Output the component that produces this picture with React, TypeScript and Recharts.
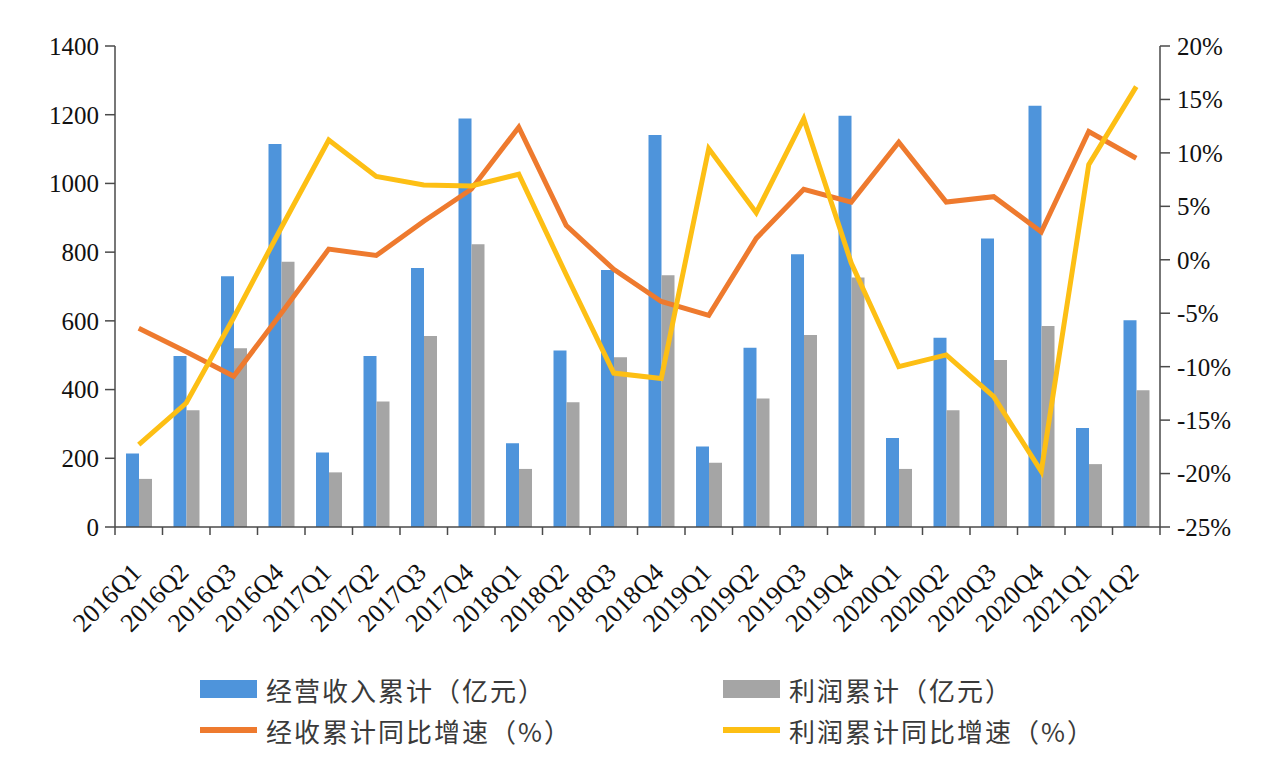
import { ComposedChart, Bar, Line, XAxis, YAxis } from "recharts";

const QUARTERS = [
  "2016Q1", "2016Q2", "2016Q3", "2016Q4",
  "2017Q1", "2017Q2", "2017Q3", "2017Q4",
  "2018Q1", "2018Q2", "2018Q3", "2018Q4",
  "2019Q1", "2019Q2", "2019Q3", "2019Q4",
  "2020Q1", "2020Q2", "2020Q3", "2020Q4",
  "2021Q1", "2021Q2",
];

// 经营收入累计（亿元）
const REVENUE = [214, 498, 730, 1115, 217, 498, 754, 1189, 244, 514, 748, 1141, 234, 522, 794, 1197, 259, 551, 840, 1226, 288, 602];
// 利润累计（亿元）
const PROFIT = [140, 340, 520, 772, 159, 365, 556, 823, 169, 363, 494, 733, 187, 374, 559, 726, 169, 340, 486, 585, 183, 398];
// 经收累计同比增速（%）
const REVENUE_YOY = [-6.4, -8.6, -10.9, -5.0, 1.0, 0.4, 3.6, 6.6, 12.4, 3.2, -0.9, -3.9, -5.2, 2.0, 6.6, 5.4, 11.0, 5.4, 5.9, 2.6, 12.0, 9.5];
// 利润累计同比增速（%）
const PROFIT_YOY = [-17.3, -13.4, -5.4, 3.0, 11.2, 7.8, 7.0, 6.9, 8.0, -1.4, -10.6, -11.1, 10.4, 4.4, 13.2, -0.3, -10.0, -8.9, -12.8, -19.8, 8.9, 16.2];

const LEFT_TICKS = [0, 200, 400, 600, 800, 1000, 1200, 1400];
const RIGHT_TICKS = [-25, -20, -15, -10, -5, 0, 5, 10, 15, 20];

const data = QUARTERS.map((q, i) => ({
  q,
  revenue: REVENUE[i],
  profit: PROFIT[i],
  revenueYoy: REVENUE_YOY[i],
  profitYoy: PROFIT_YOY[i],
}));

const W = 1266;
const H = 764;
const MARGIN = { top: 46, right: 36, left: 55, bottom: 137 };
const LEFT_AXIS_W = 60;
const RIGHT_AXIS_W = 70;
const PLOT_W = W - MARGIN.left - MARGIN.right - LEFT_AXIS_W - RIGHT_AXIS_W;
const BAND = PLOT_W / QUARTERS.length;

const AXIS = "#4a4a4a";
const SERIF = '"Liberation Serif", "DejaVu Serif", serif';
const SANS = '"Noto Sans CJK SC", "Noto Sans", sans-serif';
const BLUE = "#4e94db";
const GRAY = "#a5a5a5";
const ORANGE = "#ee7a2e";
const YELLOW = "#fdbf14";

function QuarterTick(props: any) {
  const { x, y, payload, index } = props;
  const last = index === QUARTERS.length - 1;
  return (
    <g>
      <line x1={x - BAND / 2} x2={x - BAND / 2} y1={y} y2={y + 8} stroke={AXIS} strokeWidth={1.5} />
      {last && <line x1={x + BAND / 2} x2={x + BAND / 2} y1={y} y2={y + 8} stroke={AXIS} strokeWidth={1.5} />}
      <text
        transform={`translate(${x + 4},${y + 47}) rotate(-45)`}
        textAnchor="end"
        fontFamily={SERIF}
        fontSize={26}
        fill="#111"
      >
        {payload.value}
      </text>
    </g>
  );
}

function LegendItem({ kind, color, label, left, top }: any) {
  return (
    <div style={{ position: "absolute", left, top, display: "flex", alignItems: "center", height: 30 }}>
      <div
        style={{
          width: 57,
          height: kind === "bar" ? 18 : 6,
          background: color,
          marginRight: 9,
        }}
      />
      <span style={{ fontFamily: SANS, fontSize: 26, letterSpacing: 2, color: "#3a3a3a", whiteSpace: "nowrap" }}>
        {label}
      </span>
    </div>
  );
}

export default function App() {
  return (
    <div style={{ position: "absolute", left: 0, top: 0, width: W, height: H, background: "#fff" }}>
      <ComposedChart width={W} height={H} data={data} margin={MARGIN} barGap={0} barSize={13}>
        <XAxis
          dataKey="q"
          interval={0}
          height={100}
          tickLine={false}
          tickSize={0}
          tickMargin={0}
          axisLine={{ stroke: AXIS, strokeWidth: 1.5 }}
          tick={<QuarterTick />}
        />
        <YAxis
          yAxisId="left"
          width={LEFT_AXIS_W}
          domain={[0, 1400]}
          ticks={LEFT_TICKS}
          interval={0}
          tickSize={10}
          tickMargin={6}
          axisLine={{ stroke: AXIS, strokeWidth: 1.5 }}
          tickLine={{ stroke: AXIS, strokeWidth: 1.5 }}
          tick={{ fontFamily: SERIF, fontSize: 25, fill: "#111" }}
        />
        <YAxis
          yAxisId="right"
          orientation="right"
          width={RIGHT_AXIS_W}
          domain={[-25, 20]}
          ticks={RIGHT_TICKS}
          interval={0}
          tickSize={10}
          tickMargin={7}
          tickFormatter={(v: number) => `${v}%`}
          axisLine={{ stroke: AXIS, strokeWidth: 1.5 }}
          tickLine={{ stroke: AXIS, strokeWidth: 1.5 }}
          tick={{ fontFamily: SERIF, fontSize: 25, fill: "#111" }}
        />
        <Bar yAxisId="left" dataKey="revenue" fill={BLUE} isAnimationActive={false} />
        <Bar yAxisId="left" dataKey="profit" fill={GRAY} isAnimationActive={false} />
        <Line
          yAxisId="right"
          dataKey="revenueYoy"
          stroke={ORANGE}
          strokeWidth={5}
          dot={false}
          type="linear"
          isAnimationActive={false}
        />
        <Line
          yAxisId="right"
          dataKey="profitYoy"
          stroke={YELLOW}
          strokeWidth={5}
          dot={false}
          type="linear"
          isAnimationActive={false}
        />
      </ComposedChart>
      <LegendItem kind="bar" color={BLUE} label="经营收入累计（亿元）" left={200} top={674} />
      <LegendItem kind="bar" color={GRAY} label="利润累计（亿元）" left={723} top={674} />
      <LegendItem kind="line" color={ORANGE} label="经收累计同比增速（%）" left={200} top={715} />
      <LegendItem kind="line" color={YELLOW} label="利润累计同比增速（%）" left={723} top={715} />
    </div>
  );
}
